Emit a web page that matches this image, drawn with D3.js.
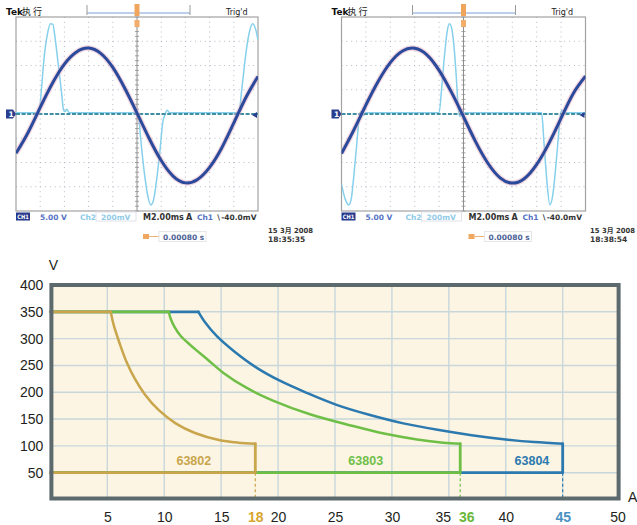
<!DOCTYPE html>
<html><head><meta charset="utf-8">
<script src="https://cdn.jsdelivr.net/npm/d3@7"></script>
<style>
html,body{margin:0;padding:0;background:#fff;}
svg{display:block;}
</style></head><body>
<svg id="c" width="637" height="525"></svg>
<script>
// ===== Data: output envelope chart (I in A, V in V) =====
const yTicks = [50, 100, 150, 200, 250, 300, 350, 400];
const xTicks = [5, 10, 15, 18, 20, 25, 30, 35, 36, 40, 45, 50];
const gridX = [5, 10, 15, 20, 25, 30, 35, 40, 45];
const gridY = [50, 100, 150, 200, 250, 300, 350];
const models = ["63802", "63803", "63804"];
const maxCurrent = [18, 36, 45];
const ratedVoltage = 350;
const minVoltage = 50;
const curve63802 = [[5.3,350],[5.55,326],[6.1,290],[6.7,256],[7.45,224],[8.3,196],[9.5,167],[11.0,142],[12.7,124],[14.8,111],[16.5,106],[18,104]];
const curve63803 = [[10.4,350],[10.55,338],[10.9,322],[11.45,305],[12.3,288],[13.75,262],[15.2,236],[17.25,208],[19.6,184],[22.8,159],[26.4,138],[29.3,123],[32.2,112],[34.5,106],[36,104]];
const curve63804 = [[13.0,350],[13.6,330],[14.6,305],[16.1,277],[18.1,246],[20.2,221],[22.5,199],[25.2,176],[28,158],[31,142],[34,130],[37,120],[40,112],[42.5,107],[45,104]];
const modelLabelI = [12.6, 27.7, 42.3];
const modelLabelV = 72;

// ===== Data: oscilloscope captures (divisions) =====
const scopeTime = [0,0.5,1,1.5,2,2.5,3,3.5,4,4.5,5,5.5,6,6.5,7,7.5,8,8.5,9,9.5,10];
const scope1Voltage = [-1.62,-0.76,0.27,1.26,2.06,2.56,2.72,2.50,1.92,1.05,0.04,-1.00,-1.92,-2.57,-2.84,-2.70,-2.20,-1.40,-0.37,0.68,1.55];
const scope2Voltage = [-1.63,-0.67,0.37,1.34,2.12,2.60,2.71,2.44,1.80,0.91,-0.11,-1.15,-2.03,-2.63,-2.85,-2.66,-2.08,-1.21,-0.17,0.85,1.56];
const scope1Current = [[0,0.05],[0.95,0.05],[1.05,1.0],[1.15,2.2],[1.3,3.3],[1.42,3.72],[1.52,3.7],[1.62,3.1],[1.75,2.0],[1.88,0.9],[1.97,0.15],[2.03,0.1],[2.1,0.2],[2.2,0.05],[5.05,0.05],[5.15,-1.0],[5.3,-2.4],[5.45,-3.4],[5.57,-3.75],[5.67,-3.6],[5.8,-2.8],[5.95,-1.5],[6.07,-0.3],[6.15,-0.05],[6.25,0.15],[6.35,0.05],[9.2,0.05],[9.35,1.2],[9.5,2.5],[9.65,3.4],[9.78,3.72],[9.9,3.5],[10,3.05]];
const scope2Current = [[0,-2.9],[0.15,-3.5],[0.3,-3.75],[0.4,-3.5],[0.5,-2.6],[0.62,-1.3],[0.72,-0.2],[0.8,0.1],[0.9,-0.05],[1.0,0.05],[4.0,0.05],[4.1,1.0],[4.22,2.4],[4.33,3.4],[4.42,3.72],[4.5,3.6],[4.6,2.9],[4.7,1.6],[4.78,0.3],[4.85,-0.1],[4.95,0.05],[8.2,0.05],[8.3,-1.2],[8.42,-2.8],[8.54,-3.75],[8.65,-3.4],[8.78,-2.2],[8.9,-0.8],[8.98,0.0],[9.05,0.15],[9.15,0.05],[10,0.05]];
const scopeDate = ["15 3月 2008", "15 3月 2008"];
const scopeClock = ["18:35:35", "18:38:54"];
const scopeStatus = ["5.00 V", "200mV", "M2.00ms", "∖-40.0mV", "0.00080 s"];

const svg = d3.select("#c");

// ================= Oscilloscope panels =================
function drawScope(id, left, right, volt, curr, date, clock, dateX) {
  const top = 17, bottom = 211;
  const sx = d3.scaleLinear().domain([0, 10]).range([left, right]);
  const sy = d3.scaleLinear().domain([-4, 4]).range([bottom, top]);
  const g = svg.append("g");
  const font = "'DejaVu Sans', 'Noto Sans CJK SC', sans-serif";

  const gv = d3.range(1, 10).filter(d => d !== 5);
  const gh = d3.range(-3, 4).filter(d => d !== 0);
  g.append("g").selectAll("line").data(gv).join("line")
    .attr("x1", d => sx(d)).attr("x2", d => sx(d)).attr("y1", top).attr("y2", bottom)
    .attr("stroke", "#b4b8c6").attr("stroke-width", 1).attr("stroke-dasharray", "1,3.84");
  g.append("g").selectAll("line").data(gh).join("line")
    .attr("x1", left).attr("x2", right).attr("y1", d => sy(d)).attr("y2", d => sy(d))
    .attr("stroke", "#b4b8c6").attr("stroke-width", 1).attr("stroke-dasharray", "1,3.84");
  g.append("line").attr("x1", sx(5)).attr("x2", sx(5)).attr("y1", top).attr("y2", bottom)
    .attr("stroke", "#8e8e8e").attr("stroke-width", 1);
  g.append("g").selectAll("line").data(d3.range(-4, 4.01, 0.2)).join("line")
    .attr("x1", sx(5) - 2).attr("x2", sx(5) + 2).attr("y1", d => sy(d)).attr("y2", d => sy(d))
    .attr("stroke", "#8e8e8e").attr("stroke-width", 0.8);
  g.append("rect").attr("x", left).attr("y", top).attr("width", right - left).attr("height", bottom - top)
    .attr("fill", "none").attr("stroke", "#a2a2a2").attr("stroke-width", 1.2);

  g.append("clipPath").attr("id", id).append("rect")
    .attr("x", left).attr("y", top - 2).attr("width", right - left).attr("height", bottom - top + 4);
  const tr = g.append("g").attr("clip-path", `url(#${id})`);

  const lc = d3.line().x(d => sx(d[0])).y(d => sy(d[1])).curve(d3.curveMonotoneX);
  tr.append("path").attr("d", lc(curr)).attr("fill", "none")
    .attr("stroke", "#86d0ec").attr("stroke-width", 1.5);
  tr.append("line").attr("x1", left).attr("x2", right).attr("y1", sy(0)).attr("y2", sy(0))
    .attr("stroke", "#3f8ea4").attr("stroke-width", 1.8).attr("stroke-dasharray", "4,1.6");
  const lv = d3.line().x((d, i) => sx(scopeTime[i])).y(d => sy(d)).curve(d3.curveNatural);
  tr.append("path").attr("d", lv(volt)).attr("fill", "none")
    .attr("stroke", "#e6a6b8").attr("stroke-opacity", 0.45).attr("stroke-width", 5.5);
  tr.append("path").attr("d", lv(volt)).attr("fill", "none")
    .attr("stroke", "#2b4a9c").attr("stroke-width", 3);

  g.append("path").attr("d", `M${left - 10},${sy(0) - 4.5}h7l3,4.5l-3,4.5h-7z`).attr("fill", "#2a3e90");
  g.append("text").attr("x", left - 7.5).attr("y", sy(0) + 3).attr("fill", "#fff")
    .attr("font-size", 7.5).attr("font-weight", "bold").attr("font-family", font).text("1");
  g.append("path").attr("d", `M${right - 6},${sy(0) + 1}l5,-3v6z`).attr("fill", "#2a3e90");

  g.append("text").attr("x", left - 10).attr("y", 15).attr("font-size", 9).attr("font-weight", "bold")
    .attr("font-family", font).attr("fill", "#111").text("Tek");
  g.append("text").attr("x", left + 6).attr("y", 15).attr("font-size", 9).attr("letter-spacing", 2)
    .attr("font-family", font).attr("fill", "#222").text("执行");
  g.append("line").attr("x1", left + 71).attr("x2", left + 174).attr("y1", 13).attr("y2", 13)
    .attr("stroke", "#7d9ed6").attr("stroke-width", 1);
  g.append("line").attr("x1", left + 71).attr("x2", left + 71).attr("y1", 5).attr("y2", 15).attr("stroke", "#999");
  g.append("line").attr("x1", left + 174).attr("x2", left + 174).attr("y1", 5).attr("y2", 15).attr("stroke", "#999");
  g.append("rect").attr("x", sx(5) - 2.5).attr("y", 4).attr("width", 5).attr("height", 12).attr("fill", "#f0a55c");
  g.append("rect").attr("x", sx(5) - 2.5).attr("y", 20).attr("width", 5).attr("height", 7).attr("fill", "#f2ad6a");
  g.append("text").attr("x", left + 210).attr("y", 15).attr("font-size", 8)
    .attr("font-family", font).attr("fill", "#222").text("Trig'd");

  const sb = 219.5;
  g.append("rect").attr("x", left).attr("y", 212.5).attr("width", 14).attr("height", 8).attr("fill", "#27398c");
  g.append("text").attr("x", left + 1.2).attr("y", sb - 0.7).attr("font-size", 6).attr("font-weight", "bold")
    .attr("textLength", 11.6).attr("lengthAdjust", "spacingAndGlyphs")
    .attr("font-family", font).attr("fill", "#fff").text("CH1");
  g.append("text").attr("x", left + 24).attr("y", sb).attr("font-size", 7.5).attr("font-weight", "bold")
    .attr("font-family", font).attr("fill", "#5573c4").text(scopeStatus[0]);
  g.append("text").attr("x", left + 64).attr("y", sb).attr("font-size", 7.5).attr("font-weight", "bold")
    .attr("font-family", font).attr("fill", "#8ccbe8").text("Ch2");
  g.append("rect").attr("x", left + 80).attr("y", 212).attr("width", 40).attr("height", 9)
    .attr("fill", "none").attr("stroke", "#e2e2ea").attr("stroke-width", 1);
  g.append("text").attr("x", left + 85).attr("y", sb).attr("font-size", 7.5).attr("font-weight", "bold")
    .attr("font-family", font).attr("fill", "#92cbe8").text(scopeStatus[1]);
  g.append("text").attr("x", left + 127).attr("y", sb).attr("font-size", 8).attr("font-weight", "bold")
    .attr("font-family", font).attr("fill", "#333").text(scopeStatus[2]);
  g.append("text").attr("x", left + 170).attr("y", sb).attr("font-size", 8).attr("font-weight", "bold")
    .attr("font-family", font).attr("fill", "#333").text("A");
  g.append("text").attr("x", left + 181).attr("y", sb).attr("font-size", 7.5).attr("font-weight", "bold")
    .attr("font-family", font).attr("fill", "#5573c4").text("Ch1");
  g.append("text").attr("x", left + 200).attr("y", sb).attr("font-size", 7.5).attr("font-weight", "bold")
    .attr("font-family", font).attr("fill", "#333").text(scopeStatus[3]);
  g.append("rect").attr("x", left + 127).attr("y", 234).attr("width", 6).attr("height", 5).attr("fill", "#f0a860");
  g.append("line").attr("x1", left + 133).attr("x2", left + 143).attr("y1", 236.5).attr("y2", 236.5)
    .attr("stroke", "#f0b070").attr("stroke-width", 1);
  g.append("rect").attr("x", left + 143).attr("y", 231.5).attr("width", 47).attr("height", 10)
    .attr("fill", "none").attr("stroke", "#e6e6ea").attr("stroke-width", 1);
  g.append("text").attr("x", left + 147).attr("y", 239.5).attr("font-size", 7.5).attr("font-weight", "bold")
    .attr("font-family", font).attr("fill", "#4d6296").text(scopeStatus[4]);
  g.append("text").attr("x", dateX).attr("y", 233).attr("font-size", 7).attr("font-weight", "bold")
    .attr("textLength", 45).attr("lengthAdjust", "spacingAndGlyphs")
    .attr("font-family", font).attr("fill", "#333").text(date);
  g.append("text").attr("x", dateX).attr("y", 242).attr("font-size", 7.5).attr("font-weight", "bold")
    .attr("font-family", font).attr("fill", "#333").text(clock);
}

drawScope("clipA", 16, 258, scope1Voltage, scope1Current, scopeDate[0], scopeClock[0], 268);
drawScope("clipB", 341.5, 585.5, scope2Voltage, scope2Current, scopeDate[1], scopeClock[1], 590);

// ================= Output envelope chart =================
const x = d3.scaleLinear().domain([0, 50]).range([50.4, 619.6]);
const y = d3.scaleLinear().domain([0, 400]).range([499.5, 285]);
const chart = svg.append("g");
const cfont = "'Liberation Sans', Arial, sans-serif";

chart.append("rect").attr("x", x(0)).attr("y", y(400)).attr("width", x(50) - x(0)).attr("height", y(0) - y(400))
  .attr("fill", "#fcf5e4");
chart.append("g").selectAll("line").data(gridX).join("line")
  .attr("x1", d => x(d)).attr("x2", d => x(d)).attr("y1", y(0)).attr("y2", y(400))
  .attr("stroke", "#c7d7db").attr("stroke-width", 1.4);
chart.append("g").selectAll("line").data(gridY).join("line")
  .attr("x1", x(0)).attr("x2", x(50)).attr("y1", d => y(d)).attr("y2", d => y(d))
  .attr("stroke", "#c7d7db").attr("stroke-width", 1.4);

const curves = [curve63802, curve63803, curve63804];
const colors = ["#c9a54c", "#6fbf47", "#2b79ae"];
const lin = d3.line().x(d => x(d[0])).y(d => y(d[1]));
const smooth = d3.line().x(d => x(d[0])).y(d => y(d[1])).curve(d3.curveCatmullRom.alpha(0.5));
[2, 1, 0].forEach(i => {
  const c = curves[i], Imax = maxCurrent[i], col = colors[i];
  const gg = chart.append("g").attr("fill", "none").attr("stroke", col)
    .attr("stroke-linejoin", "round").attr("stroke-linecap", "round");
  gg.append("path").attr("d", lin([[Imax, minVoltage], [Imax, 0]]))
    .attr("stroke-width", 1.2).attr("stroke-dasharray", "3,2.5").attr("stroke-linecap", "butt");
  gg.append("path").attr("d", lin([[0, ratedVoltage], c[0]])).attr("stroke-width", 2.8);
  gg.append("path").attr("d", smooth(c)).attr("stroke-width", 2.5);
  gg.append("path").attr("d", lin([c[c.length - 1], [Imax, minVoltage], [0, minVoltage]])).attr("stroke-width", 2.8);
});
chart.append("g").selectAll("text").data(models).join("text")
  .attr("x", (d, i) => x(modelLabelI[i])).attr("y", y(modelLabelV) + 4.5)
  .attr("text-anchor", "middle").attr("font-family", cfont).attr("font-weight", "bold").attr("font-size", 12.5)
  .attr("fill", (d, i) => colors[i]).text(d => d);

chart.append("rect").attr("x", x(0) + 1).attr("y", y(400)).attr("width", x(50) - x(0) - 2).attr("height", y(0) - y(400) - 1)
  .attr("fill", "none").attr("stroke", "#5d6a6d").attr("stroke-width", 4);

const yAxis = d3.axisLeft(y).tickValues(yTicks).tickSize(0).tickPadding(7);
chart.append("g").attr("transform", `translate(${x(0)},0)`).call(yAxis)
  .call(g => g.select(".domain").remove())
  .attr("font-family", cfont).attr("font-size", 14).attr("color", "#231f20");
const hi = {18: "#d8a630", 36: "#6bb83a", 45: "#4b91c3"};
const xAxis = d3.axisBottom(x).tickValues(xTicks).tickSize(0).tickPadding(12.3).tickFormat(d3.format("d"));
chart.append("g").attr("transform", `translate(0,${y(0)})`).call(xAxis)
  .call(g => g.select(".domain").remove())
  .attr("font-family", cfont).attr("font-size", 14).attr("color", "#231f20")
  .selectAll("text")
  .attr("x", d => d === 35 ? -6 : d === 36 ? 6 : d === 50 ? -2 : 0)
  .attr("fill", d => hi[d] || "#231f20")
  .attr("font-weight", d => hi[d] ? "bold" : "normal");
chart.append("text").attr("x", 53.5).attr("y", 270).attr("text-anchor", "middle")
  .attr("font-family", cfont).attr("font-size", 14).attr("fill", "#231f20").text("V");
chart.append("text").attr("x", 628).attr("y", 501.7)
  .attr("font-family", cfont).attr("font-size", 14).attr("fill", "#231f20").text("A");
</script>
</body></html>
